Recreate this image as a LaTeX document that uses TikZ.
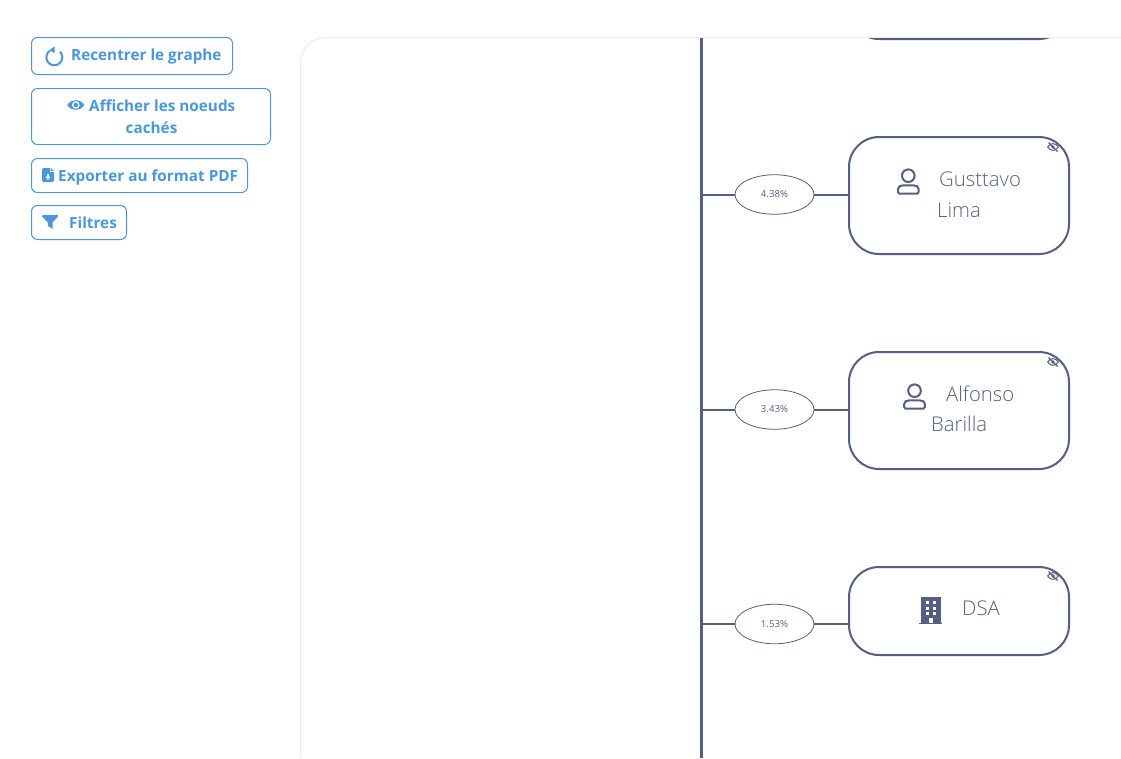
\documentclass[tikz,border=0pt]{standalone}
\usepackage{fontspec}
\setmainfont{Open Sans}
\newfontfamily\lightfont{Open Sans Light}
\usetikzlibrary{shapes.geometric}
\definecolor{btn}{HTML}{4A98DB}
\definecolor{ink}{HTML}{555F82}
\definecolor{panel}{HTML}{ECECF8}
\newcommand{\pcttext}[1]{\raisebox{-0.8pt}{#1}}
\tikzset{
  x=1pt,y=-1pt,
  btnbox/.style={draw=btn,line width=1pt,rounded corners=6pt,fill=white,inner sep=0pt,outer sep=0pt,anchor=north west},
  btntext/.style={text=btn,font=\fontsize{15.3}{18}\selectfont\bfseries,anchor=base west,inner sep=0pt},
  card/.style={draw=ink,line width=2pt,rounded corners=30pt,fill=white,inner sep=0pt,outer sep=0pt,minimum width=220pt,anchor=north west},
  pct/.style={draw=ink,line width=0.8pt,ellipse,fill=white,minimum width=79pt,minimum height=39.5pt,inner sep=0pt,outer sep=0pt,text=ink,font=\fontsize{9.7}{10}\selectfont},
  cardtext/.style={text=ink,font=\fontsize{20.3}{24}\lightfont,anchor=base west,inner sep=0pt},
  link/.style={draw=ink,line width=2pt},
  trunk/.style={draw=ink,line width=3pt},
}
\newcommand{\hiddenmark}[2]{%
  \begin{scope}[shift={(#1,#2)}]
    \draw[ink,line width=1pt] (-5.5,0) .. controls (-2,-4.5) and (2,-4.5) .. (5.5,0) .. controls (2,4.5) and (-2,4.5) .. (-5.5,0);
    \fill[ink] (0,0) circle (1.8);
    \draw[ink,line width=1.1pt] (-4.5,-4.5) -- (4.5,4.5);
  \end{scope}}
\newcommand{\personmark}[2]{%
  \begin{scope}[shift={(#1,#2)}]
    \draw[ink,line width=2pt] (0,-5.3) circle (6.3);
    \draw[ink,line width=2pt] (-10.3,8) .. controls (-10.3,5.5) and (-8,4.3) .. (-5,4.3) -- (5,4.3) .. controls (8,4.3) and (10.3,5.5) .. (10.3,8) -- (10.3,11) .. controls (10.3,12) and (9.8,12.7) .. (9,12.7) -- (-9,12.7) .. controls (-9.8,12.7) and (-10.3,12) .. (-10.3,11) -- cycle;
  \end{scope}}
\begin{document}
\begin{tikzpicture}
\useasboundingbox (0,0) rectangle (1121,758);
\fill[white] (0,0) rectangle (1121,758);
% panel
\draw[panel,line width=1pt] (300.5,758) -- (300.5,62.5) arc[start angle=180,end angle=270,x radius=25,y radius=25] -- (1121,37.5);
% buttons
\node[btnbox,minimum width=201pt,minimum height=37pt] (b1) at (31.5,37.5) {};
\node[btnbox,minimum width=239pt,minimum height=56pt] (b2) at (31.5,88.5) {};
\node[btnbox,minimum width=216pt,minimum height=34pt] (b3) at (31.5,158.5) {};
\node[btnbox,minimum width=95pt,minimum height=34pt] (b4) at (31.5,205.5) {};
\node[btntext] (t1) at (71,60) {Recentrer le graphe};
\node[btntext] (t2) at (89,111) {Afficher les noeuds};
\node[btntext] (t2b) at (125.5,133) {cachés};
\node[btntext] (t3) at (58,181) {Exporter au format PDF};
\node[btntext] (t4) at (69,228) {Filtres};
% reload icon
\draw[btn,line width=2pt] (50,50.6) arc[start angle=237,end angle=-45,x radius=8,y radius=8];
\fill[btn] (54.5,46.5) -- (54.5,53) -- (49.5,50) -- cycle;
% eye icon
\fill[btn] (67.3,105) .. controls (71,98.5) and (80.5,98.5) .. (84.3,105) .. controls (80.5,111.5) and (71,111.5) .. (67.3,105) -- cycle;
\fill[white] (75.8,105) circle (3.8);
\fill[btn] (75.8,105) circle (2.3);
% file icon
\fill[btn] (42,170) -- (42,180.5) .. controls (42,181.5) and (42.5,182) .. (43.5,182) -- (52.5,182) .. controls (53.5,182) and (54,181.5) .. (54,180.5) -- (54,172) -- (50,172) -- (50,168) -- (44,168) .. controls (43,168) and (42,168.8) .. (42,170) -- cycle;
\fill[btn] (50.8,168) -- (54,171.2) -- (50.8,171.2) -- cycle;
\draw[white,line width=1.2pt] (48,173.5) -- (48,178.5);
\fill[white] (45.2,176.5) -- (50.8,176.5) -- (48,180) -- cycle;
% filter icon
\fill[btn] (42.5,215) -- (57.8,215) .. controls (58.4,215) and (58.4,216) .. (58,216.5) -- (52.5,222.5) -- (52.5,229) -- (47.8,225.8) -- (47.8,222.5) -- (42.2,216.5) .. controls (41.8,216) and (41.8,215) .. (42.5,215) -- cycle;
% trunk
\coordinate (top) at (701.5,38);
\coordinate (bottom) at (701.5,758);
\draw[trunk] (top) -- (bottom);
% top card, cut by the panel edge
\begin{scope}
  \clip (840,38) rectangle (1080,45);
  \node[card,minimum height=119pt] (c0) at (849,-80) {};
\end{scope}
% cards
\node[card,minimum height=117pt] (c1) at (849,137) {};
\node[card,minimum height=117pt] (c2) at (849,352) {};
\node[card,minimum height=88pt] (c3) at (849,567) {};
% percentages
\node[pct] (p1) at (774.5,194.5) {\pcttext{4.38\%}};
\node[pct] (p2) at (774.5,409.5) {\pcttext{3.43\%}};
\node[pct] (p3) at (774.5,624) {\pcttext{1.53\%}};
\coordinate (j1) at (701.5,194.5);
\coordinate (j2) at (701.5,409.5);
\coordinate (j3) at (701.5,624);
\coordinate (e1) at (849,194.5);
\coordinate (e2) at (849,409.5);
\coordinate (e3) at (849,624);
\draw[link] (j1) -- (p1); \draw[link] (p1) -- (e1);
\draw[link] (j2) -- (p2); \draw[link] (p2) -- (e2);
\draw[link] (j3) -- (p3); \draw[link] (p3) -- (e3);
% card text
\node[cardtext] (n1) at (939,186) {Gusttavo};
\node[cardtext] (n1b) at (937,217) {Lima};
\node[cardtext] (n2) at (946,401) {Alfonso};
\node[cardtext] (n2b) at (931,431) {Barilla};
\node[cardtext] (n3) at (962,615) {DSA};
% icons
\personmark{908.3}{181}
\personmark{914.5}{396}
\begin{scope}
  \fill[ink] (920.5,597) rectangle (940.5,623);
  \fill[ink] (919,622.6) rectangle (942,624);
  \foreach \yy in {601,606.5,612}{
    \fill[white] (925.5,\yy) rectangle (928.5,\yy+3);
    \fill[white] (932.5,\yy) rectangle (935.5,\yy+3);
  }
  \fill[white] (928.5,617.5) rectangle (932.5,622.6);
\end{scope}
\hiddenmark{1053}{147}
\hiddenmark{1053}{362}
\hiddenmark{1053}{576}
\end{tikzpicture}
\end{document}
